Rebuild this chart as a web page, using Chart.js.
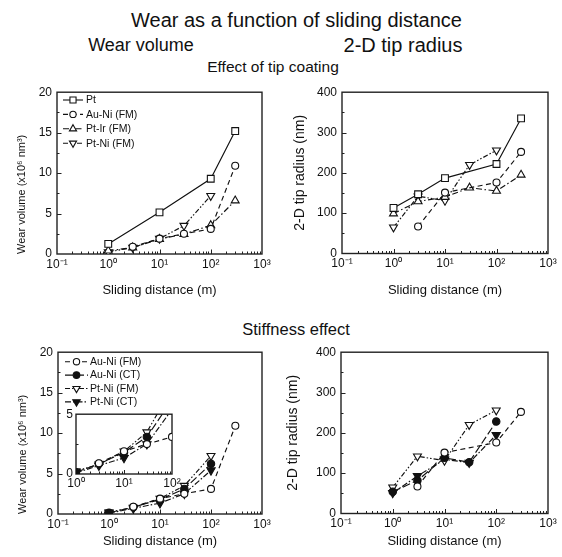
<!DOCTYPE html>
<html><head><meta charset="utf-8">
<script src="https://cdn.jsdelivr.net/npm/chart.js@4/dist/chart.umd.min.js"></script>
<style>
html,body{margin:0;padding:0;background:#fff;}
#wrap{position:relative;width:562px;height:557px;overflow:hidden;font-family:"Liberation Sans",Arial,sans-serif;color:#111;}
.t{position:absolute;white-space:nowrap;text-align:center;line-height:1;width:300px;}
.c{position:absolute;}
</style></head><body>
<div id="wrap">
<div class="t" style="left:131px;top:10px;font-size:20px">Wear as a function of sliding distance</div>
<div class="t" style="left:-9px;top:36px;font-size:18px">Wear volume</div>
<div class="t" style="left:253px;top:35px;font-size:20px">2-D tip radius</div>
<div class="t" style="left:123px;top:59px;font-size:15.5px">Effect of tip coating</div>
<div class="t" style="left:146px;top:321px;font-size:16.5px">Stiffness effect</div>
<canvas id="c1" class="c" width="280" height="230" style="left:0;top:80px"></canvas>
<canvas id="c2" class="c" width="282" height="230" style="left:280px;top:80px"></canvas>
<canvas id="c3" class="c" width="280" height="217" style="left:0;top:340px"></canvas>
<canvas id="c4" class="c" width="282" height="217" style="left:280px;top:340px"></canvas>
<canvas id="c5" class="c" width="125" height="92" style="left:60px;top:404px"></canvas>
</div>
<script>
// ---------- data ----------
const xTickValues = [0.1, 1, 10, 100, 1000];
const xTickLabels = ['10\u207B\u00B9', '10\u2070', '10\u00B9', '10\u00B2', '10\u00B3'];
const insetTickValues = [1, 10, 100];
const insetTickLabels = ['10\u2070', '10\u00B9', '10\u00B2'];

// Effect of tip coating — wear volume (x10^6 nm^3)
const xPt = [1, 10, 100, 300];
const wearPt = [1.25, 5.15, 9.3, 15.2];
const xAuNiFM = [3, 10, 30, 100, 300];
const wearAuNiFM = [0.9, 1.9, 2.5, 3.1, 10.9];
const xPtIr = [1, 3, 10, 30, 100, 300];
const wearPtIr = [0.4, 0.8, 1.85, 2.45, 3.55, 6.6];
const xPtNiFM = [1, 3, 10, 30, 100];
const wearPtNiFM = [0.25, 0.8, 1.9, 3.5, 7.2];

// Effect of tip coating — 2-D tip radius (nm)
const xRadPt = [1, 3, 10, 100, 300];
const radPt = [113, 147, 187, 222, 335];
const xRadAuNiFM = [3, 10, 100, 300];
const radAuNiFM = [67, 151, 176, 252];
const radPtIr = [99, 129, 140, 163, 155, 195];
const radPtNiFM = [65, 142, 131, 220, 256];

// Stiffness effect — wear volume
const xAuNiCT = [1, 3, 10, 30, 100];
const wearAuNiCT = [0.15, 0.85, 1.8, 3.1, 6.2];
const xPtNiCT = [1, 3, 10, 30, 100];
const wearPtNiCT = [0.1, 0.7, 1.35, 2.5, 5.4];

// Stiffness effect — 2-D tip radius
const radAuNiCT = [54, 82, 138, 127, 228];
const radPtNiCT = [51, 93, 134, 126, 195];

// ---------- helpers ----------
const FONT = '"Liberation Sans", Arial, sans-serif';
const pts = (xs, ys) => xs.map((x, i) => ({x: x, y: ys[i]}));

const styles = {
  Pt:      {dash: [], style: 'rect', r: 4.8, rot: 0, fill: '#fff'},
  AuNiFM:  {dash: [5, 3.5], style: 'circle', r: 3.5, rot: 0, fill: '#fff'},
  PtIr:    {dash: [6, 2.5, 1.5, 2.5], style: 'triangle', r: 4.6, rot: 0, fill: '#fff'},
  PtNiFM:  {dash: [5, 2, 1.5, 2, 1.5, 2], style: 'triangle', r: 4.6, rot: 180, fill: '#fff'},
  AuNiCT:  {dash: [8, 3], style: 'circle', r: 3.7, rot: 0, fill: '#111'},
  PtNiCT:  {dash: [6, 2, 1.5, 2], style: 'triangle', r: 4.8, rot: 180, fill: '#111'}
};

function ds(label, data, key) {
  const s = styles[key];
  return {
    label: label, data: data, showLine: true,
    borderColor: '#111', borderWidth: 1.15, borderDash: s.dash,
    pointStyle: s.style, pointRadius: s.r, pointRotation: s.rot,
    pointBackgroundColor: s.fill, pointBorderColor: '#111', pointBorderWidth: 1.1,
    tension: 0
  };
}

const framePlugin = {
  id: 'frameTicks',
  beforeDatasetsDraw(chart, args, o) {
    const ctx = chart.ctx, a = chart.chartArea;
    const xs = chart.scales.x, ys = chart.scales.y;
    ctx.save();
    ctx.strokeStyle = '#222';
    ctx.lineWidth = 1;
    ctx.beginPath();
    for (let d = o.xMin; d < o.xMax * 0.999; d *= 10) {
      for (let k = 1; k <= 9; k++) {
        const v = d * k;
        if (v <= o.xMin * 1.0001 || v >= o.xMax * 0.9999) continue;
        const px = Math.round(xs.getPixelForValue(v)) + 0.5;
        const len = k === 1 ? o.major : o.minor;
        ctx.moveTo(px, a.bottom);
        ctx.lineTo(px, a.bottom - len);
      }
    }
    for (let v = o.yMinor; v < o.yMax - 1e-9; v += o.yMinor) {
      const py = Math.round(ys.getPixelForValue(v)) + 0.5;
      const isMajor = Math.abs(v / o.yMajor - Math.round(v / o.yMajor)) < 1e-6;
      ctx.moveTo(a.left, py);
      ctx.lineTo(a.left + (isMajor ? o.major : o.minor), py);
    }
    ctx.stroke();
    ctx.lineWidth = 1.4;
    ctx.strokeStyle = '#222';
    ctx.strokeRect(a.left, a.top, a.right - a.left, a.bottom - a.top);
    ctx.restore();
  },
  afterDatasetsDraw(chart, args, o) {
    if (!o.legend) return;
    const ctx = chart.ctx, L = o.legend;
    ctx.save();
    chart.data.datasets.forEach((d, i) => {
      const y = L.y + i * L.row;
      ctx.strokeStyle = '#111';
      ctx.lineWidth = 1.1;
      ctx.setLineDash(d.borderDash);
      ctx.beginPath();
      ctx.moveTo(L.x0, y); ctx.lineTo(L.x1, y);
      ctx.stroke();
      ctx.setLineDash([]);
      ctx.fillStyle = d.pointBackgroundColor;
      ctx.lineWidth = 1.1;
      Chart.helpers.drawPoint(ctx, {pointStyle: d.pointStyle, radius: d.pointRadius * 0.9, rotation: d.pointRotation, borderWidth: 1.1}, (L.x0 + L.x1) / 2, y);
      ctx.fillStyle = '#111';
      ctx.font = L.size + 'px ' + FONT;
      ctx.textBaseline = 'middle';
      ctx.textAlign = 'left';
      ctx.fillText(d.label, L.tx, y + 0.5);
    });
    ctx.restore();
  }
};

function makeChart(id, datasets, c) {
  return new Chart(document.getElementById(id), {
    type: 'scatter',
    data: {datasets: datasets},
    plugins: [framePlugin],
    options: {
      responsive: false, animation: false, devicePixelRatio: 1,
      layout: {padding: c.pad},
      events: [],
      plugins: {
        legend: {display: false}, tooltip: {enabled: false},
        frameTicks: {xMin: c.xMin, xMax: c.xMax, yMax: c.yMax, yMajor: c.yStep, yMinor: c.yMinor,
                     major: c.major, minor: c.minor, legend: c.legend}
      },
      scales: {
        x: {
          type: 'logarithmic', position: 'bottom', min: c.xMin, max: c.xMax,
          grid: {display: false, drawTicks: false}, border: {display: false},
          afterBuildTicks: s => { s.ticks = c.xTicks.map(v => ({value: v, major: true})); },
          afterFit: s => { s.height = c.xH; },
          ticks: {autoSkip: false, maxRotation: 0, minRotation: 0, padding: c.xTickPad, color: '#111',
                  font: {family: FONT, size: c.tickSize},
                  callback: (v, i) => c.xLabels[i]},
          title: {display: !!c.xTitle, text: c.xTitle, color: '#111', font: {family: FONT, size: 13},
                  padding: {top: 0, bottom: c.xTitlePad}}
        },
        y: {
          type: 'linear', position: 'left', min: 0, max: c.yMax,
          grid: {display: false, drawTicks: false}, border: {display: false},
          afterFit: s => { s.width = c.yW; },
          ticks: {stepSize: c.yStep, padding: c.yTickPad, color: '#111', font: {family: FONT, size: c.tickSize}},
          title: {display: !!c.yTitle, text: c.yTitle, color: '#111', font: {family: FONT, size: c.yTitleSize || 13},
                  align: c.yTitleAlign || 'center', padding: {top: c.yTitlePad, bottom: 0}}
        }
      }
    }
  });
}

const wearTitle = 'Wear volume (x10\u2076 nm\u00B3)';
const radTitle = '2-D tip radius (nm)';
const xTitle = 'Sliding distance (m)';

// Top-left: wear volume, tip coating
makeChart('c1', [
  ds('Pt', pts(xPt, wearPt), 'Pt'),
  ds('Au-Ni (FM)', pts(xAuNiFM, wearAuNiFM), 'AuNiFM'),
  ds('Pt-Ir (FM)', pts(xPtIr, wearPtIr), 'PtIr'),
  ds('Pt-Ni (FM)', pts(xPtNiFM, wearPtNiFM), 'PtNiFM')
], {pad: {left: 0, top: 10, right: 18, bottom: 0}, xMin: 0.1, xMax: 1000, xTicks: xTickValues, xLabels: xTickLabels,
    yMax: 20, yStep: 5, yMinor: 2.5, yW: 57, xH: 56, major: 4.5, minor: 2.5, tickSize: 12,
    xTickPad: 3, yTickPad: 5, xTitle: xTitle, xTitlePad: 12, yTitle: wearTitle, yTitlePad: 15,
    yTitleSize: 11, yTitleAlign: 'start',
    legend: {x0: 63, x1: 83, tx: 86, y: 20, row: 14.4, size: 10.5}});

// Top-right: tip radius, tip coating
makeChart('c2', [
  ds('Pt', pts(xRadPt, radPt), 'Pt'),
  ds('Au-Ni (FM)', pts(xRadAuNiFM, radAuNiFM), 'AuNiFM'),
  ds('Pt-Ir (FM)', pts(xPtIr, radPtIr), 'PtIr'),
  ds('Pt-Ni (FM)', pts(xPtNiFM, radPtNiFM), 'PtNiFM')
], {pad: {left: 0, top: 10, right: 14, bottom: 0}, xMin: 0.1, xMax: 1000, xTicks: xTickValues, xLabels: xTickLabels,
    yMax: 400, yStep: 100, yMinor: 50, yW: 62, xH: 56.5, major: 4.5, minor: 2.5, tickSize: 12,
    xTickPad: 3, yTickPad: 5, xTitle: xTitle, xTitlePad: 12, yTitle: radTitle, yTitlePad: 12, yTitleSize: 14});

// Bottom-left: wear volume, stiffness
makeChart('c3', [
  ds('Au-Ni (FM)', pts(xAuNiFM, wearAuNiFM), 'AuNiFM'),
  ds('Au-Ni (CT)', pts(xAuNiCT, wearAuNiCT), 'AuNiCT'),
  ds('Pt-Ni (FM)', pts(xPtNiFM, wearPtNiFM), 'PtNiFM'),
  ds('Pt-Ni (CT)', pts(xPtNiCT, wearPtNiCT), 'PtNiCT')
], {pad: {left: 0, top: 12, right: 18, bottom: 0}, xMin: 0.1, xMax: 1000, xTicks: xTickValues, xLabels: xTickLabels,
    yMax: 20, yStep: 5, yMinor: 2.5, yW: 58, xH: 43, major: 4.5, minor: 2.5, tickSize: 12,
    xTickPad: 3, yTickPad: 5, xTitle: xTitle, xTitlePad: 8, yTitle: wearTitle, yTitlePad: 16,
    yTitleSize: 11, yTitleAlign: 'start',
    legend: {x0: 65, x1: 88, tx: 90, y: 21.7, row: 13.4, size: 10.5}});

// Bottom-right: tip radius, stiffness
makeChart('c4', [
  ds('Au-Ni (FM)', pts(xRadAuNiFM, radAuNiFM), 'AuNiFM'),
  ds('Au-Ni (CT)', pts(xAuNiCT, radAuNiCT), 'AuNiCT'),
  ds('Pt-Ni (FM)', pts(xPtNiFM, radPtNiFM), 'PtNiFM'),
  ds('Pt-Ni (CT)', pts(xPtNiCT, radPtNiCT), 'PtNiCT')
], {pad: {left: 0, top: 7, right: 14, bottom: 0}, xMin: 0.1, xMax: 1000, xTicks: xTickValues, xLabels: xTickLabels,
    yMax: 400, yStep: 100, yMinor: 50, yW: 61, xH: 43.5, major: 4.5, minor: 2.5, tickSize: 12,
    xTickPad: 3, yTickPad: 5, xTitle: xTitle, xTitlePad: 8, yTitle: radTitle, yTitlePad: 5, yTitleSize: 14});

// Inset: wear volume zoom 1–100 m
makeChart('c5', [
  ds('Au-Ni (FM)', pts(xAuNiFM, wearAuNiFM), 'AuNiFM'),
  ds('Au-Ni (CT)', pts(xAuNiCT, wearAuNiCT), 'AuNiCT'),
  ds('Pt-Ni (FM)', pts(xPtNiFM, wearPtNiFM), 'PtNiFM'),
  ds('Pt-Ni (CT)', pts(xPtNiCT, wearPtNiCT), 'PtNiCT')
], {pad: {left: 0, top: 10, right: 13, bottom: 0}, xMin: 1, xMax: 100, xTicks: insetTickValues, xLabels: insetTickLabels,
    yMax: 5, yStep: 5, yMinor: 2.5, yW: 16, xH: 22, major: 4, minor: 2.5, tickSize: 12,
    xTickPad: 2, yTickPad: 3, xTitle: '', xTitlePad: 0, yTitle: '', yTitlePad: 0});
</script>
</body></html>
